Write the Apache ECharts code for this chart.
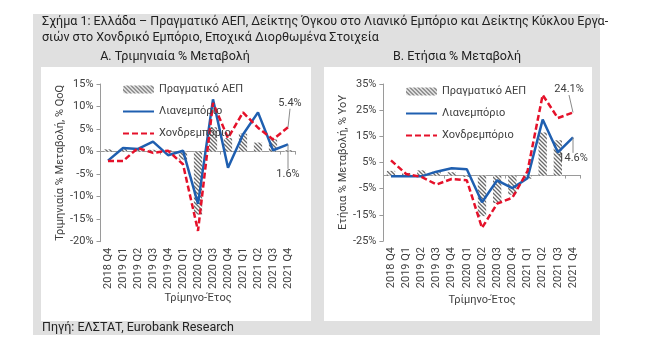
<!DOCTYPE html>
<html>
<head>
<meta charset="utf-8">
<script src="https://cdn.jsdelivr.net/npm/echarts@6/dist/echarts.min.js"></script>
<style>
html,body{margin:0;padding:0;background:#fff;}
#c{width:658px;height:361px;}
</style>
</head>
<body>
<div id="c"></div>
<script>
const categories = ['2018 Q4','2019 Q1','2019 Q2','2019 Q3','2019 Q4','2020 Q1','2020 Q2','2020 Q3','2020 Q4','2021 Q1','2021 Q2','2021 Q3','2021 Q4'];
const gdpQoQ = [0.5, 0.6, 0.7, 0.4, 0.3, -1.8, -14.0, 5.4, 3.0, 4.0, 2.0, 2.7, 0.3];
const retailQoQ = [-2.0, 0.8, 0.6, 2.2, -0.8, 0.2, -11.6, 11.6, -3.6, 3.8, 8.7, 0.3, 1.6];
const wholesaleQoQ = [-2.1, -2.1, 0.8, -0.3, 0.2, -2.8, -17.6, 10.8, 3.0, 8.7, 5.3, 2.7, 5.4];
const gdpYoY = [1.8, 1.0, 2.0, 1.6, 1.3, -0.5, -15.5, -10.5, -7.3, -1.2, 16.5, 13.5, null];
const retailYoY = [-0.3, -0.3, -0.3, 1.5, 2.8, 2.4, -10.2, -1.8, -4.8, -1.0, 21.4, 8.9, 14.6];
const wholesaleYoY = [5.8, 0.6, -0.5, -3.4, -1.3, -1.8, -20.0, -10.7, -8.5, 1.7, 30.8, 22.0, 24.1];
const qoqTicks = {min: -20, max: 15, interval: 5};
const yoyTicks = {min: -25, max: 35, interval: 10};
const names = {gdp: 'Πραγματικό ΑΕΠ', retail: 'Λιανεμπόριο', wholesale: 'Χονδρεμπόριο'};

const FONT = 'Roboto';
const TXT = '#404040';
const AX = '#9a9a9a';
const BLUE = '#1f5fb0';
const RED = '#e5112a';

// hatch pattern
const pc = document.createElement('canvas');
const s = 4;
pc.width = s; pc.height = s;
const px = pc.getContext('2d');
px.fillStyle = '#ffffff'; px.fillRect(0,0,s,s);
px.strokeStyle = '#6a6a6a'; px.lineWidth = 1.3;
px.beginPath();
px.moveTo(0,0); px.lineTo(s,s);
px.moveTo(-1,s-1); px.lineTo(1,s+1);
px.moveTo(s-1,-1); px.lineTo(s+1,1);
px.stroke();
const hatch = {image: pc, repeat: 'repeat'};

const last = categories.length - 1;

function withEndLabel(arr) {
  return arr.map(function(v, i) {
    if (i !== last) return v;
    return {value: v,
      label: {show: true, formatter: v.toFixed(1) + '%', position: 'inside',
        fontFamily: FONT, fontSize: 11, color: TXT}};
  });
}

const grids = [
  {left: 100.5, top: 84, width: 195, height: 157.7},
  {left: 383.4, top: 84, width: 197.2, height: 157}
];

function xAxes(gi, gap) {
  return [
    {type: 'category', gridIndex: gi, data: categories, boundaryGap: true, position: 'bottom',
     axisLine: {show: false, onZero: false}, axisTick: {show: false},
     axisLabel: {rotate: 90, margin: 6, fontFamily: FONT, fontSize: 11, color: TXT, interval: 0},
     name: 'Τρίμηνο-Έτος', nameLocation: 'middle', nameGap: gap,
     nameTextStyle: {fontFamily: FONT, fontSize: 11, color: TXT}},
    {type: 'category', gridIndex: gi, data: categories, boundaryGap: true, position: 'bottom',
     axisLine: {show: true, onZero: true, lineStyle: {color: AX, width: 1}},
     axisTick: {show: true, length: 3, lineStyle: {color: AX}},
     axisLabel: {show: false}}
  ];
}
function yAxis(gi, t, name, gap) {
  return {type: 'value', gridIndex: gi, min: t.min, max: t.max, interval: t.interval,
    axisLine: {show: true, lineStyle: {color: AX}},
    axisTick: {show: true, length: 4, lineStyle: {color: AX}},
    splitLine: {show: false},
    axisLabel: {formatter: '{value}%', margin: 7, fontFamily: FONT, fontSize: 11, color: TXT},
    name: name, nameLocation: 'middle', nameGap: gap, nameRotate: 90,
    nameTextStyle: {fontFamily: FONT, fontSize: 11, color: TXT}};
}

function lineSeries(name, xi, yi, arr, color, dash, layout) {
  return {type: 'line', name: name, xAxisIndex: xi, yAxisIndex: yi,
    data: withEndLabel(arr),
    symbol: 'circle', symbolSize: 0.01, showSymbol: true, showAllSymbol: true,
    lineStyle: {color: color, width: 2.5, type: dash}, itemStyle: {color: color},
    labelLayout: function(p) { return p.dataIndex === last ? layout : {}; },
    labelLine: {show: true, lineStyle: {color: '#8a8a8a', width: 1}}};
}

function seriesSet(gi, gdp, retail, wholesale, layouts) {
  const xi = gi * 2, yi = gi;
  return [
    {type: 'bar', name: names.gdp, xAxisIndex: xi, yAxisIndex: yi, data: gdp, barWidth: '55%',
     itemStyle: {color: hatch}},
    lineSeries(names.retail, xi, yi, retail, BLUE, 'solid', layouts[0]),
    lineSeries(names.wholesale, xi, yi, wholesale, RED, [6, 3], layouts[1])
  ];
}

function legend(left, top) {
  return {orient: 'vertical', left: left, top: top, itemWidth: 31, itemHeight: 8, itemGap: 11,
    data: [{name: names.gdp},
           {name: names.retail, itemStyle: {opacity: 0}},
           {name: names.wholesale, itemStyle: {opacity: 0}}],
    textStyle: {fontFamily: FONT, fontSize: 11, color: TXT}, selectedMode: false};
}

const chart = echarts.init(document.getElementById('c'), null, {renderer: 'canvas'});
chart.setOption({
  animation: false,
  backgroundColor: '#ffffff',
  graphic: [
    {type: 'rect', shape: {x: 33, y: 14, width: 567, height: 321}, style: {fill: '#e0e0e0'}, z: -10, silent: true},
    {type: 'rect', shape: {x: 41, y: 67, width: 270, height: 254}, style: {fill: '#ffffff'}, z: -9, silent: true},
    {type: 'rect', shape: {x: 324, y: 67, width: 268, height: 254}, style: {fill: '#ffffff'}, z: -9, silent: true},
    {type: 'text', x: 42, y: 22, style: {text: 'Σχήμα 1: Ελλάδα – Πραγματικό ΑΕΠ, Δείκτης Όγκου στο Λιανικό Εμπόριο και Δείκτης Κύκλου Εργα-', font: '12.5px ' + FONT, fill: '#222', verticalAlign: 'middle'}},
    {type: 'text', x: 42, y: 38, style: {text: 'σιών στο Χονδρικό Εμπόριο, Εποχικά Διορθωμένα Στοιχεία', font: '12.5px ' + FONT, fill: '#222', verticalAlign: 'middle'}},
    {type: 'text', x: 175, y: 57, style: {text: 'Α. Τριμηνιαία % Μεταβολή', font: '12.5px ' + FONT, fill: '#222', align: 'center', verticalAlign: 'middle'}},
    {type: 'text', x: 457, y: 57, style: {text: 'Β. Ετήσια % Μεταβολή', font: '12.5px ' + FONT, fill: '#222', align: 'center', verticalAlign: 'middle'}},
    {type: 'text', x: 42, y: 328, style: {text: 'Πηγή: ΕΛΣΤΑΤ, Eurobank Research', font: '12.5px ' + FONT, fill: '#222', verticalAlign: 'middle'}}
  ],
  grid: grids,
  legend: [legend(117, 79), legend(400, 81)],
  xAxis: xAxes(0, 50).concat(xAxes(1, 54)),
  yAxis: [yAxis(0, qoqTicks, 'Τριμηνιαία % Μεταβολή, % QoQ', 27), yAxis(1, yoyTicks, 'Ετήσια % Μεταβολή, % YoY', 27)],
  series: seriesSet(0, gdpQoQ, retailQoQ, wholesaleQoQ, [{dy: 30}, {dx: 2, dy: -24}])
    .concat(seriesSet(1, gdpYoY, retailYoY, wholesaleYoY, [{dy: 21}, {dx: -4, dy: -23}]))
});
</script>
</body>
</html>
